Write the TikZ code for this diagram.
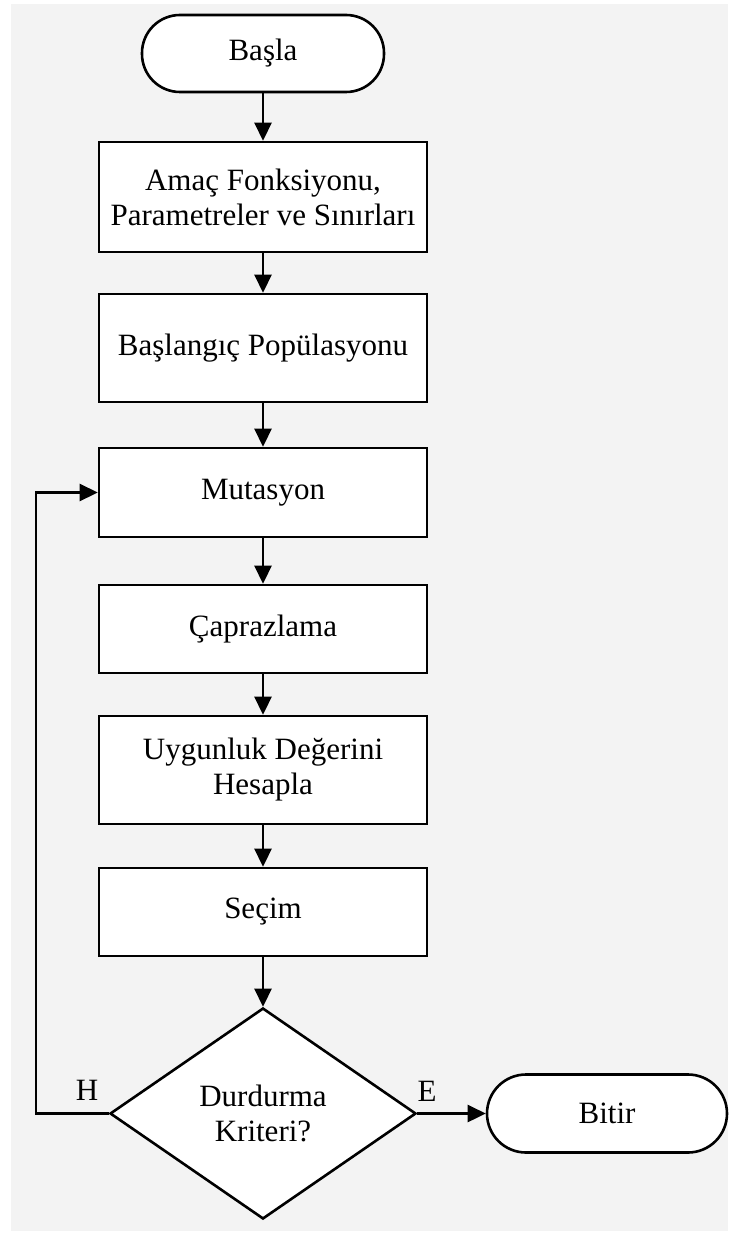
\documentclass[tikz,border=0pt]{standalone}
\usepackage{fontspec}
\setmainfont{Liberation Serif}
\usetikzlibrary{arrows.meta,shapes.geometric}
\definecolor{paper}{HTML}{F3F3F3}
\begin{document}
\begin{tikzpicture}[x=1pt,y=-1pt,
  every node/.style={font=\fontsize{31}{35}\selectfont, align=center, inner sep=0pt},
  box/.style={draw, line width=2.6pt, fill=white, minimum width=328pt},
  terminal/.style={draw, line width=2.6pt, fill=white, rounded corners=38pt,
    minimum width=242pt, minimum height=77pt},
  decision/.style={draw, diamond, line width=2.6pt, fill=white, shape aspect=1.45,
    minimum width=306pt, minimum height=211pt},
  flow/.style={line width=2.6pt, line join=miter, -{Triangle[length=18pt,width=17pt]}},
  ]
% page and background
\fill[white] (0,0) rectangle (728,1233);
\fill[paper] (11,4) rectangle (728,1231);
\useasboundingbox (0,0) rectangle (728,1233);

% flowchart steps
\node[terminal] (start) at (263,53.5) {Başla};
\node[box, minimum height=110pt] (obj) at (263,197) {Amaç Fonksiyonu,\\Parametreler ve Sınırları};
\node[box, minimum height=108pt] (init) at (263,348) {Başlangıç Popülasyonu};
\node[box, minimum height=89pt] (mut) at (263,492.5) {Mutasyon};
\node[box, minimum height=88pt] (cross) at (263,629) {Çaprazlama};
\node[box, minimum height=108pt] (fit) at (263,770) {Uygunluk Değerini\\Hesapla};
\node[box, minimum height=88pt] (sel) at (263,912) {Seçim};
\node[decision] (stop) at (263,1113.5) {Durdurma\\Kriteri?};
\node[terminal, minimum width=240pt, minimum height=78pt, rounded corners=39pt] (end) at (607,1113.5) {Bitir};

% branch labels
\node (no) at (87,1090) {H};
\node (yes) at (427,1091) {E};

% connectors
\coordinate (loopx) at (36,0);
\draw[flow] (start) -- (obj);
\draw[flow] (obj) -- (init);
\draw[flow] (init) -- (mut);
\draw[flow] (mut) -- (cross);
\draw[flow] (cross) -- (fit);
\draw[flow] (fit) -- (sel);
\draw[flow] (sel) -- (stop);
\draw[flow] (stop.east) -- (end.west);
\draw[flow] (stop.west) -- (stop.west -| loopx) |- (mut.west);
\end{tikzpicture}
\end{document}
